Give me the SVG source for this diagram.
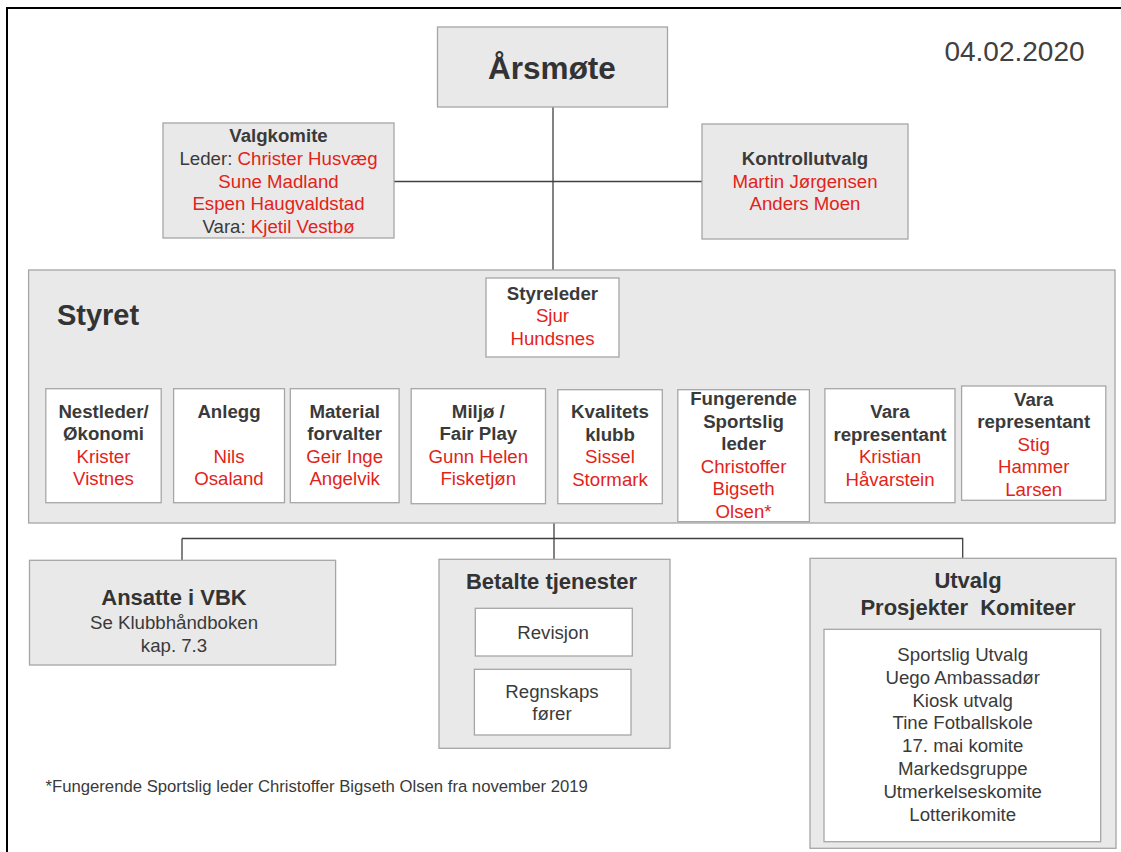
<svg xmlns="http://www.w3.org/2000/svg" width="1121" height="852" viewBox="0 0 1121 852">
<style>
.g{fill:#e9e9e9;stroke:#a6a6a6;stroke-width:1.3}
.w{fill:#ffffff;stroke:#a6a6a6;stroke-width:1.3}
.t{font-family:"Liberation Sans",Arial,sans-serif;font-size:18.67px;fill:#3a3a3a;text-anchor:middle}
.b{font-weight:bold}
.r{fill:#e2231a}
.c{stroke:#404040;stroke-width:1.3;fill:none}
</style>
<rect x="0" y="0" width="1121" height="852" fill="#ffffff"/>
<path d="M7,852 V8 H1121" fill="none" stroke="#000" stroke-width="2"/>

<g id="connectors">
<path class="c" d="M553,107 V270"/>
<path class="c" d="M394,181.5 H702"/>
<path class="c" d="M553,357 V372"/>
<path class="c" d="M104,370 H1027"/>
<path class="c" d="M104,370 V389 M229.4,370 V389 M343,370 V389 M479,370 V389 M609.7,370 V390 M737.5,370 V390 M889.4,370 V389 M1026.5,370 V386"/>
<path class="c" d="M554,523 V559"/>
<path class="c" d="M182,538.5 H962.7 V558"/>
<path class="c" d="M182,538.5 V560"/>
</g>

<g id="date"><text class="t" x="1014.5" y="61" style="font-size:28px;fill:#404040">04.02.2020</text></g>

<g id="arsmote">
<rect class="g" x="437.5" y="27" width="230" height="80"/>
<text class="t b" x="552" y="78.5" style="font-size:31.5px;fill:#333">Årsmøte</text>
</g>

<g id="valgkomite">
<rect class="g" x="163" y="123" width="231" height="115"/>
<text class="t b" x="278.5" y="142">Valgkomite</text>
<text class="t" x="278.5" y="165">Leder: <tspan class="r">Christer Husvæg</tspan></text>
<text class="t r" x="278.5" y="187.5">Sune Madland</text>
<text class="t r" x="278.5" y="210">Espen Haugvaldstad</text>
<text class="t" x="278.5" y="232.5">Vara: <tspan class="r">Kjetil Vestbø</tspan></text>
</g>

<g id="kontrollutvalg">
<rect class="g" x="702" y="124" width="206" height="115"/>
<text class="t b" x="805" y="165">Kontrollutvalg</text>
<text class="t r" x="805" y="187.5">Martin Jørgensen</text>
<text class="t r" x="805" y="210">Anders Moen</text>
</g>

<g id="styret">
<rect class="g" x="28.6" y="270" width="1086.4" height="253"/>
<text class="t b" x="98" y="325" style="font-size:29px;fill:#333">Styret</text>
</g>

<g id="styreleder">
<rect class="w" x="486" y="278" width="133" height="79"/>
<text class="t b" x="552.5" y="299.5">Styreleder</text>
<text class="t r" x="552.5" y="322">Sjur</text>
<text class="t r" x="552.5" y="344.5">Hundsnes</text>
</g>

<g id="nestleder">
<rect class="w" x="45.8" y="388.7" width="115.4" height="114"/>
<text class="t b" x="103.5" y="417.5">Nestleder/</text>
<text class="t b" x="103.5" y="440">Økonomi</text>
<text class="t r" x="103.5" y="462.5">Krister</text>
<text class="t r" x="103.5" y="485">Vistnes</text>
</g>

<g id="anlegg">
<rect class="w" x="173.6" y="388.7" width="110.9" height="114"/>
<text class="t b" x="229" y="417.5">Anlegg</text>
<text class="t r" x="229" y="462.5">Nils</text>
<text class="t r" x="229" y="485">Osaland</text>
</g>

<g id="material">
<rect class="w" x="290.3" y="388.7" width="108.8" height="114"/>
<text class="t b" x="344.7" y="417.5">Material</text>
<text class="t b" x="344.7" y="440">forvalter</text>
<text class="t r" x="344.7" y="462.5">Geir Inge</text>
<text class="t r" x="344.7" y="485">Angelvik</text>
</g>

<g id="miljo">
<rect class="w" x="411.2" y="388.7" width="134.3" height="115"/>
<text class="t b" x="478.3" y="417.5">Miljø /</text>
<text class="t b" x="478.3" y="440">Fair Play</text>
<text class="t r" x="478.3" y="462.5">Gunn Helen</text>
<text class="t r" x="478.3" y="485">Fisketjøn</text>
</g>

<g id="kvalitet">
<rect class="w" x="557.8" y="389.7" width="104.5" height="114"/>
<text class="t b" x="610" y="418">Kvalitets</text>
<text class="t b" x="610" y="440.5">klubb</text>
<text class="t r" x="610" y="463">Sissel</text>
<text class="t r" x="610" y="485.5">Stormark</text>
</g>

<g id="fungerende">
<rect class="w" x="677.8" y="389.7" width="131.6" height="132"/>
<text class="t b" x="743.6" y="405">Fungerende</text>
<text class="t b" x="743.6" y="427.5">Sportslig</text>
<text class="t b" x="743.6" y="450">leder</text>
<text class="t r" x="743.6" y="472.5">Christoffer</text>
<text class="t r" x="743.6" y="495">Bigseth</text>
<text class="t r" x="743.6" y="517.5">Olsen*</text>
</g>

<g id="vara1">
<rect class="w" x="824.9" y="388.7" width="130.1" height="114"/>
<text class="t b" x="890" y="418">Vara</text>
<text class="t b" x="890" y="440.5">representant</text>
<text class="t r" x="890" y="463">Kristian</text>
<text class="t r" x="890" y="485.5">Håvarstein</text>
</g>

<g id="vara2">
<rect class="w" x="961.6" y="386" width="144.2" height="114.3"/>
<text class="t b" x="1033.7" y="405.5">Vara</text>
<text class="t b" x="1033.7" y="428">representant</text>
<text class="t r" x="1033.7" y="450.5">Stig</text>
<text class="t r" x="1033.7" y="473">Hammer</text>
<text class="t r" x="1033.7" y="495.5">Larsen</text>
</g>

<g id="ansatte">
<rect class="g" x="29.5" y="560.3" width="306.1" height="104.7"/>
<text class="t b" x="174" y="605" style="font-size:22px;fill:#333">Ansatte i VBK</text>
<text class="t" x="174" y="628.5">Se Klubbhåndboken</text>
<text class="t" x="174" y="651.5">kap. 7.3</text>
</g>

<g id="betalte">
<rect class="g" x="439" y="559.3" width="231" height="189"/>
<text class="t b" x="551.5" y="589" style="font-size:22px;fill:#333">Betalte tjenester</text>
</g>

<g id="revisjon">
<rect class="w" x="475.3" y="608.3" width="157" height="47.7"/>
<text class="t" x="553" y="639">Revisjon</text>
</g>

<g id="regnskap">
<rect class="w" x="474.4" y="669.3" width="156.6" height="65.7"/>
<text class="t" x="552" y="698">Regnskaps</text>
<text class="t" x="552" y="720">fører</text>
</g>

<g id="utvalg">
<rect class="g" x="810" y="558.3" width="306" height="290"/>
<text class="t b" x="968" y="588.3" style="font-size:22px;fill:#333">Utvalg</text>
<text class="t b" x="968" y="615" style="font-size:22px;fill:#333;white-space:pre" xml:space="preserve">Prosjekter  Komiteer</text>
<rect class="w" x="824" y="629.3" width="276.7" height="212.4"/>
<text class="t" x="962.7" y="661">Sportslig Utvalg</text>
<text class="t" x="962.7" y="683.8">Uego Ambassadør</text>
<text class="t" x="962.7" y="706.6">Kiosk utvalg</text>
<text class="t" x="962.7" y="729.4">Tine Fotballskole</text>
<text class="t" x="962.7" y="752.2">17. mai komite</text>
<text class="t" x="962.7" y="775">Markedsgruppe</text>
<text class="t" x="962.7" y="797.8">Utmerkelseskomite</text>
<text class="t" x="962.7" y="820.6">Lotterikomite</text>
</g>

<g id="footer">
<text class="t" x="45.5" y="792" style="font-size:16.7px;text-anchor:start">*Fungerende Sportslig leder Christoffer Bigseth Olsen fra november 2019</text>
</g>
</svg>
